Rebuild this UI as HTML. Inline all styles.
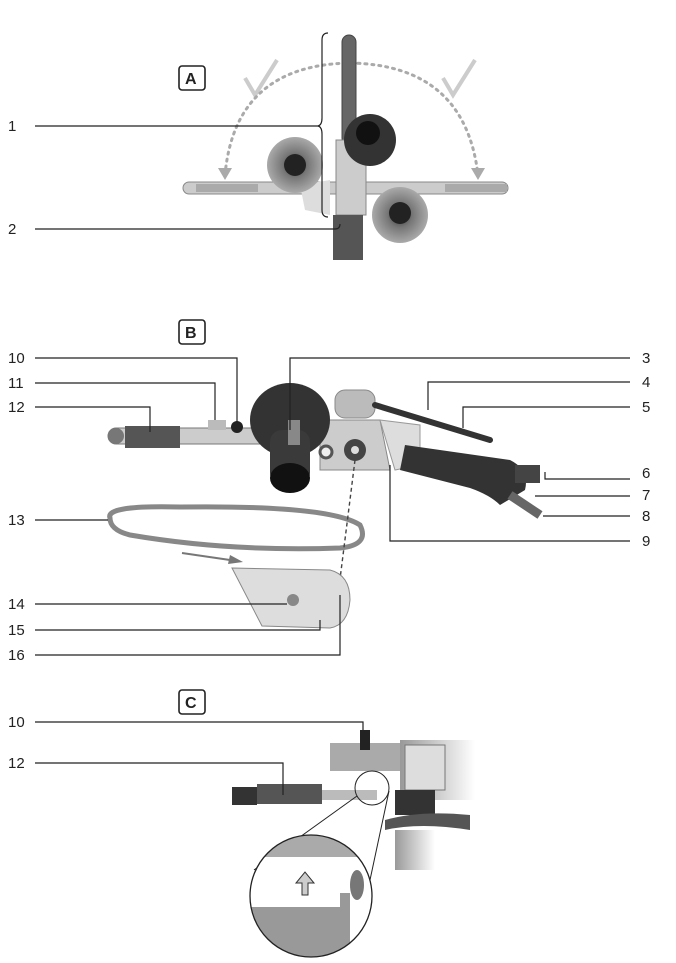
<!DOCTYPE html>
<html><head><meta charset="utf-8"><style>
html,body{margin:0;padding:0;background:#fff}
svg{display:block}
text{font-family:"Liberation Sans",sans-serif;fill:#222}
</style></head><body>
<svg width="676" height="963" viewBox="0 0 676 963" xmlns="http://www.w3.org/2000/svg">
<defs>
<radialGradient id="dk" cx="50%" cy="50%" r="50%"><stop offset="0" stop-color="#111"/><stop offset="0.5" stop-color="#444"/><stop offset="1" stop-color="#2a2a2a"/></radialGradient>
<radialGradient id="lt" cx="50%" cy="50%" r="50%"><stop offset="0" stop-color="#333"/><stop offset="0.45" stop-color="#777"/><stop offset="1" stop-color="#aaa"/></radialGradient>
<linearGradient id="fade" x1="0" x2="1"><stop offset="0" stop-color="#999"/><stop offset="1" stop-color="#fff"/></linearGradient>
</defs>
<g font-size="15">
<!-- ===== A ===== -->
<rect x="179" y="66" width="26" height="24" rx="3" fill="#fff" stroke="#222" stroke-width="1.6"/>
<text x="185" y="84" font-size="16" font-weight="bold">A</text>
<!-- check marks -->
<path d="M245 78 L255 95 L277 60" fill="none" stroke="#ccc" stroke-width="4"/>
<path d="M443 78 L453 95 L475 60" fill="none" stroke="#ccc" stroke-width="4"/>
<!-- dotted arc -->
<path d="M225 175 Q235 65 350 63 Q465 65 478 175" fill="none" stroke="#aaa" stroke-width="3" stroke-dasharray="2,5" stroke-linecap="round"/>
<path d="M218 168 L225 180 L232 168Z M471 168 L478 180 L485 168Z" fill="#aaa"/>
<!-- horizontal belt arms -->
<rect x="183" y="182" width="325" height="12" rx="6" fill="#ccc" stroke="#888"/>
<rect x="196" y="184" width="62" height="8" fill="#aaa"/>
<rect x="445" y="184" width="62" height="8" fill="#aaa"/>
<!-- vertical arm -->
<rect x="342" y="35" width="14" height="110" rx="7" fill="#666" stroke="#444"/>
<rect x="336" y="140" width="30" height="75" fill="#ccc" stroke="#888"/>
<rect x="333" y="215" width="30" height="45" fill="#555"/>
<path d="M300 185 L330 180 L330 215 L305 210Z" fill="#ddd"/>
<circle cx="295" cy="165" r="28" fill="url(#lt)"/>
<circle cx="295" cy="165" r="11" fill="#222"/>
<circle cx="370" cy="140" r="26" fill="#333"/>
<circle cx="368" cy="133" r="12" fill="#111"/>
<circle cx="400" cy="215" r="28" fill="url(#lt)"/>
<circle cx="400" cy="213" r="11" fill="#222"/>
<!-- bracket -->
<path d="M328 33 Q322 33 322 40 L322 118 Q322 125 318 126 Q322 127 322 134 L322 210 Q322 217 328 217" fill="none" stroke="#222" stroke-width="1.2"/>
<line x1="35" y1="126" x2="318" y2="126" stroke="#222" stroke-width="1.2"/>
<text x="8" y="131">1</text>
<path d="M35 229 L335 229 Q340 229 340 224" fill="none" stroke="#222" stroke-width="1.2"/>
<text x="8" y="234">2</text>

<!-- ===== B ===== -->
<rect x="179" y="320" width="26" height="24" rx="3" fill="#fff" stroke="#222" stroke-width="1.6"/>
<text x="185" y="338" font-size="16" font-weight="bold">B</text>
<!-- tool body -->
<rect x="108" y="428" width="175" height="16" rx="8" fill="#ccc" stroke="#777"/>
<circle cx="116" cy="436" r="8" fill="#777"/>
<rect x="125" y="426" width="55" height="22" fill="#555"/>
<rect x="208" y="420" width="18" height="10" fill="#bbb"/>
<circle cx="237" cy="427" r="6" fill="#222"/>
<path d="M320 420 L380 420 L390 470 L320 470Z" fill="#ccc" stroke="#888"/>
<rect x="335" y="390" width="40" height="28" rx="10" fill="#bbb" stroke="#888"/>
<circle cx="355" cy="450" r="11" fill="#444"/>
<circle cx="355" cy="450" r="4" fill="#ddd"/>
<circle cx="326" cy="452" r="6" fill="#eee" stroke="#555" stroke-width="3"/>
<path d="M380 420 L420 425 L420 465 L395 470Z" fill="#ddd" stroke="#999"/>
<ellipse cx="290" cy="420" rx="40" ry="37" fill="#333"/>
<rect x="270" y="430" width="40" height="55" rx="12" fill="#3a3a3a"/>
<ellipse cx="290" cy="478" rx="20" ry="15" fill="#111"/>
<rect x="288" y="420" width="12" height="25" fill="#888"/>
<path d="M405 445 L510 460 Q530 470 525 490 L500 505 Q490 495 470 488 L400 470Z" fill="#333"/>
<path d="M375 405 L490 440" stroke="#333" stroke-width="6" stroke-linecap="round"/>
<rect x="515" y="465" width="25" height="18" fill="#444"/>
<path d="M510 495 L540 515" stroke="#666" stroke-width="9"/>
<!-- belt -->
<path d="M110 518 Q105 505 180 507 Q330 505 360 525 Q370 545 340 548 Q230 552 130 535 Q110 530 110 518Z" fill="none" stroke="#888" stroke-width="5"/>
<!-- dashed line -->
<line x1="355" y1="460" x2="338" y2="595" stroke="#444" stroke-width="1.4" stroke-dasharray="4,3"/>
<!-- arrow -->
<path d="M182 553 L230 560" stroke="#777" stroke-width="2"/>
<path d="M230 555 L243 562 L228 564Z" fill="#777"/>
<!-- plate -->
<path d="M232 568 L330 570 Q350 575 350 600 Q348 625 330 628 L262 626Z" fill="#ddd" stroke="#888"/>
<circle cx="293" cy="600" r="6" fill="#888"/>
<!-- labels B -->
<g stroke="#222" stroke-width="1.2" fill="none">
<path d="M35 358 L237 358 L237 422"/>
<path d="M35 383 L215 383 L215 420"/>
<path d="M35 407 L150 407 L150 432"/>
<path d="M35 520 L108 520"/>
<path d="M35 604 L287 604"/>
<path d="M35 630 L320 630 L320 620"/>
<path d="M35 655 L340 655 L340 595"/>
<path d="M630 358 L290 358 L290 430"/>
<path d="M630 382 L428 382 L428 410"/>
<path d="M630 407 L463 407 L463 428"/>
<path d="M630 479 L545 479 L545 472"/>
<path d="M630 496 L535 496"/>
<path d="M630 516 L543 516"/>
<path d="M630 541 L390 541 L390 465"/>
</g>
<text x="8" y="363">10</text><text x="8" y="388">11</text><text x="8" y="412">12</text>
<text x="8" y="525">13</text><text x="8" y="609">14</text><text x="8" y="635">15</text><text x="8" y="660">16</text>
<text x="642" y="363">3</text><text x="642" y="387">4</text><text x="642" y="412">5</text>
<text x="642" y="478">6</text><text x="642" y="500">7</text><text x="642" y="521">8</text><text x="642" y="546">9</text>

<!-- ===== C ===== -->
<rect x="179" y="690" width="26" height="24" rx="3" fill="#fff" stroke="#222" stroke-width="1.6"/>
<text x="185" y="708" font-size="16" font-weight="bold">C</text>
<rect x="400" y="740" width="75" height="60" fill="url(#fade)"/>
<rect x="405" y="745" width="40" height="45" fill="#ddd" stroke="#777"/>
<rect x="330" y="743" width="70" height="28" fill="#aaa"/>
<rect x="360" y="730" width="10" height="20" fill="#222"/>
<rect x="395" y="790" width="40" height="25" fill="#333"/>
<path d="M385 820 Q420 810 470 815 L470 830 Q420 822 385 830Z" fill="#555"/>
<rect x="395" y="830" width="40" height="40" fill="url(#fade)"/>
<rect x="232" y="787" width="25" height="18" fill="#333"/>
<rect x="257" y="784" width="65" height="20" fill="#555"/>
<rect x="322" y="790" width="55" height="10" fill="#bbb"/>
<circle cx="372" cy="788" r="17" fill="none" stroke="#222" stroke-width="1"/>
<line x1="357" y1="796" x2="254" y2="870" stroke="#222"/>
<line x1="389" y1="791" x2="370" y2="880" stroke="#222"/>
<clipPath id="cc"><circle cx="311" cy="896" r="61"/></clipPath>
<g clip-path="url(#cc)">
<rect x="250" y="835" width="125" height="125" fill="#fff"/>
<rect x="250" y="835" width="125" height="22" fill="#aaa"/>
<rect x="250" y="907" width="100" height="55" fill="#999"/>
<rect x="340" y="893" width="10" height="20" fill="#999"/>
<ellipse cx="357" cy="885" rx="7" ry="15" fill="#777"/>
<path d="M302 895 L302 883 L296 883 L305 872 L314 883 L308 883 L308 895Z" fill="#ccc" stroke="#333"/>
</g>
<circle cx="311" cy="896" r="61" fill="none" stroke="#222" stroke-width="1.3"/>
<g stroke="#222" stroke-width="1.2" fill="none">
<path d="M35 722 L363 722 L363 735"/>
<path d="M35 763 L283 763 L283 795"/>
</g>
<text x="8" y="727">10</text><text x="8" y="768">12</text>
</g>
</svg>
</body></html>
